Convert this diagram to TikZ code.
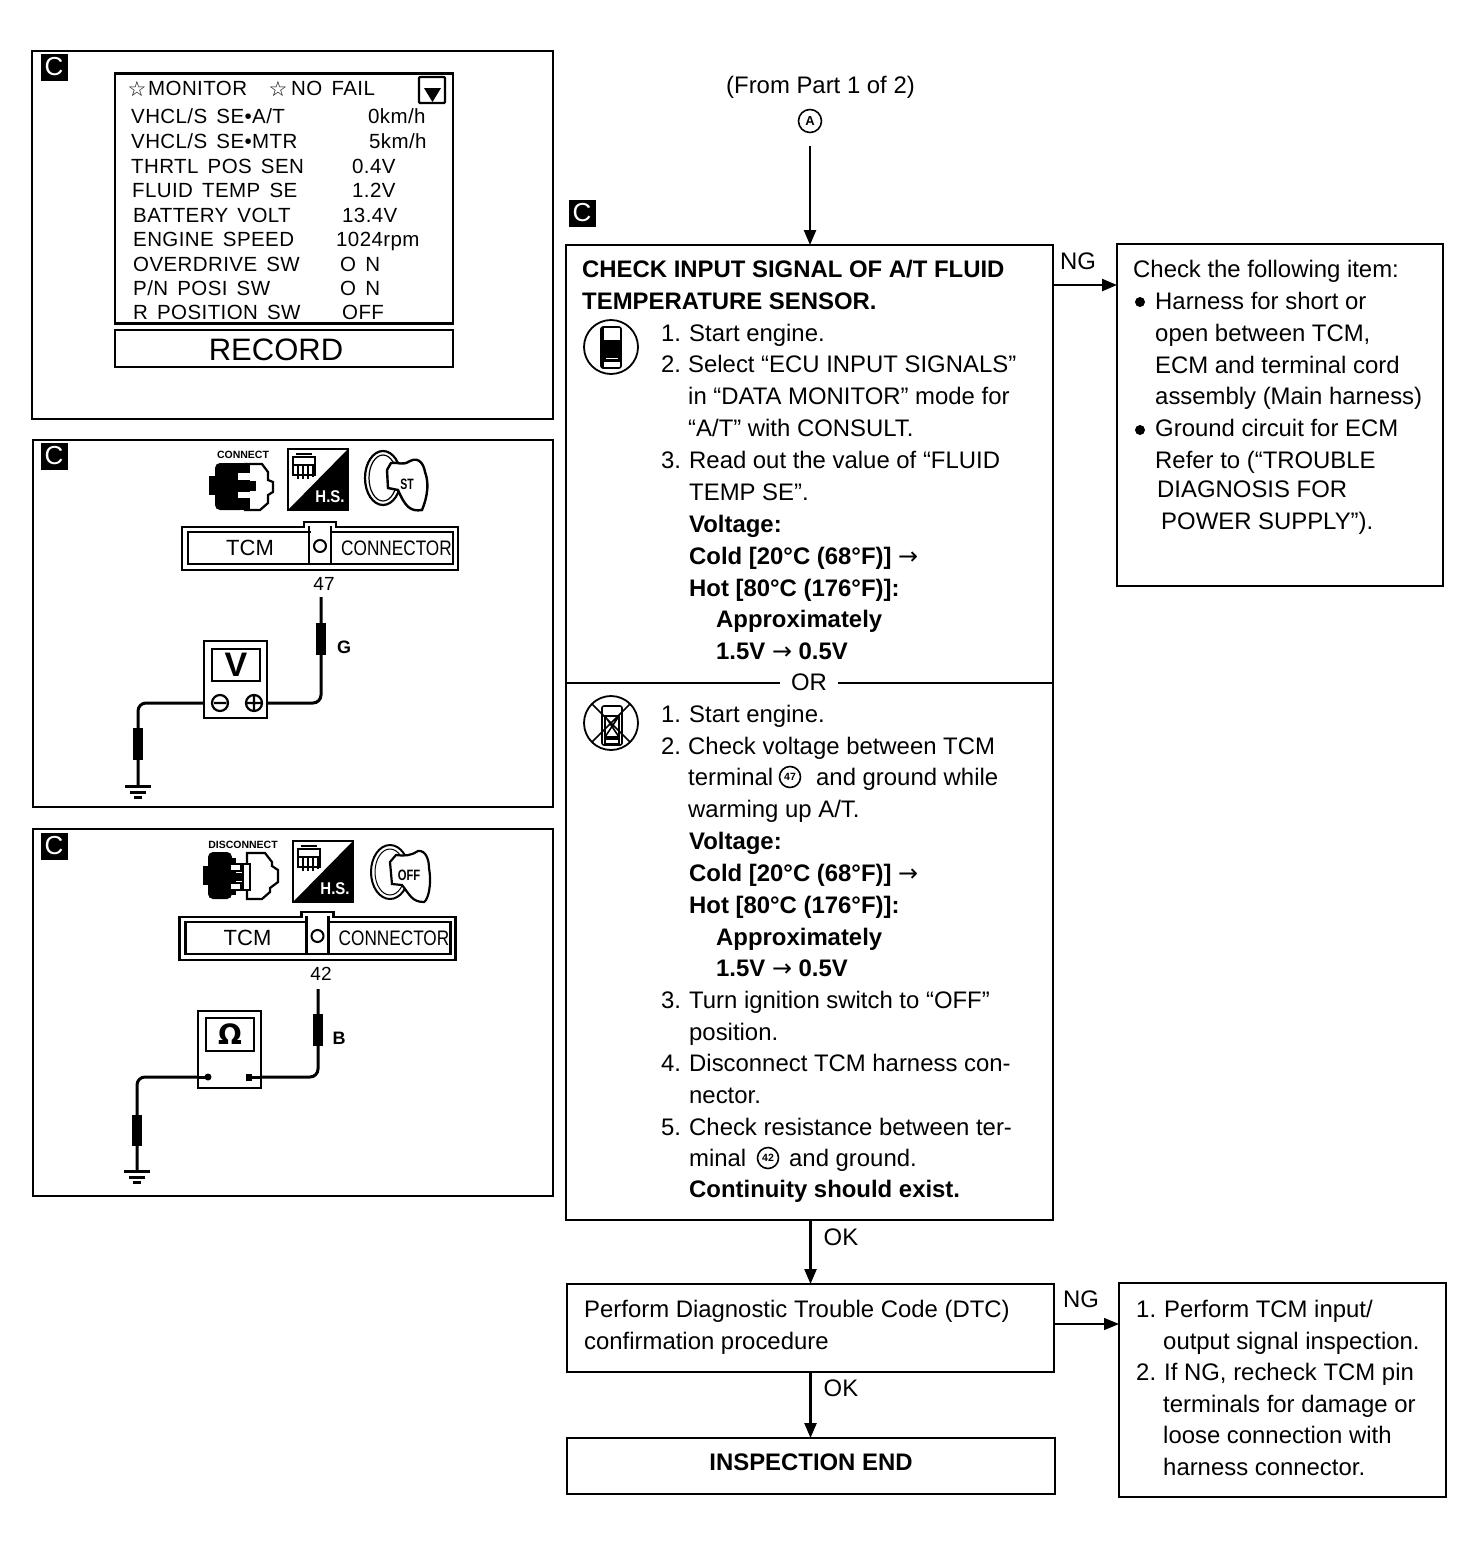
\documentclass[tikz,border=0pt]{standalone}
\usepackage{fontspec}
\setmainfont{Liberation Sans}
\newfontfamily\monfont[LetterSpace=2,WordSpace=1.5]{Liberation Sans}
\newfontfamily\dejavu{DejaVu Sans}
\usetikzlibrary{arrows.meta}
\newcounter{tn}
\tikzset{
  txt/.style={anchor=base west,inner sep=0pt,font=\fontsize{23.9}{28}\selectfont},
  btxt/.style={txt,font=\fontsize{23.9}{28}\selectfont\bfseries},
  mon/.style={anchor=base west,inner sep=0pt,font=\fontsize{20.5}{26}\selectfont\monfont},
  ctr/.style={anchor=center,inner sep=0pt},
  box/.style={draw,line width=2pt,anchor=north west,inner sep=0pt,outer sep=0pt,fill=white},
  panel/.style={box,line width=1.8pt},
  arr/.style={line width=2.4pt,-{Triangle[length=15pt,width=12pt]}},
  wire/.style={line width=3pt,rounded corners=8pt},
  badge/.style={fill=black,text=white,minimum size=27pt,inner sep=0pt,anchor=center,font=\fontsize{26}{28}\selectfont},
  ccirc/.style={draw,circle,line width=1.6pt,minimum size=21pt,inner sep=0pt,font=\fontsize{10.5}{11}\selectfont\bfseries},
}
\newcommand{\tl}[4][]{\stepcounter{tn}\node[txt,#1] (t\arabic{tn}) at (#2,#3) {#4};}
\newcommand{\tb}[4][]{\stepcounter{tn}\node[btxt,#1] (t\arabic{tn}) at (#2,#3) {#4};}
\newcommand{\tm}[3]{\stepcounter{tn}\node[mon] (t\arabic{tn}) at (#1,#2) {#3};}
\newcommand{\hsicon}[2]{%
 \begin{scope}[shift={(#1,#2)}]
  \draw[line width=2pt] (0,0) rectangle (60,61);
  \fill (60,0) -- (60,61) -- (0,61) -- cycle;
  \stepcounter{tn}\node[ctr,text=white,font=\fontsize{17}{18}\selectfont\bfseries] (t\arabic{tn}) at (42,48) {\scalebox{0.88}[1]{H.S.}};
  \draw[line width=1.5pt,fill=white] (5,8) rectangle (27,26);
  \draw[line width=1.5pt] (8,5) -- (24,5) (5,16) -- (27,16) (10,16) -- (10,30) (15,16) -- (15,30) (20,16) -- (20,30) (25,16) -- (25,28);
 \end{scope}}
\newcommand{\tcmconn}[4]{%
 \begin{scope}[shift={(#1,#2)}]
  \draw[line width=2.6pt,fill=white] (0,5) -- (122,5) -- (122,0) -- (154,0) -- (154,5) -- (276,5) -- (276,48) -- (0,48) -- cycle;
  \draw[line width=2.6pt] (6,10) rectangle (271,42);
  \fill[white] (128.5,6.5) rectangle (147.5,40.5);
  \draw[line width=2.6pt] (127,42) -- (127,4) (149,42) -- (149,4);
  \draw[line width=2pt] (138,24) circle (6);
  \stepcounter{tn}\node[ctr,font=\fontsize{22}{24}\selectfont] (t\arabic{tn}) at (68,26) {TCM};
  \stepcounter{tn}\node[ctr,font=\fontsize{21}{24}\selectfont] (t\arabic{tn}) at (214.5,26) {\scalebox{0.82}[1]{CONNECTOR}};
  \stepcounter{tn}\node[ctr,font=\fontsize{19}{20}\selectfont] (t\arabic{tn}) at (#3,62) {#4};
 \end{scope}}
\newcommand{\gnd}[2]{%
 \draw[line width=3pt] (#1-13,#2) -- (#1+13,#2);
 \draw[line width=3pt] (#1-8,#2+6) -- (#1+8,#2+6);
 \draw[line width=3pt] (#1-4,#2+11) -- (#1+4,#2+11);}
\newcommand{\sleeve}[3]{\fill (#1-5,#2) rectangle (#1+5,#3);}
\begin{document}
\begin{tikzpicture}[x=1pt,y=-1pt]
\useasboundingbox (0,0) rectangle (1472,1550);
\fill[white] (0,0) rectangle (1472,1550);

% ---------- panels
\node[panel,minimum width=521pt,minimum height=368pt] (p1) at (32,51) {};
\node[panel,minimum width=520pt,minimum height=367pt] (p2) at (33,440) {};
\node[panel,minimum width=520pt,minimum height=367pt] (p3) at (33,829) {};
\node[badge] (c1) at (54,67) {C};
\node[badge] (c2) at (54,456) {C};
\node[badge] (c3) at (54,846) {C};
\node[badge] (c4) at (582,213) {C};

% ---------- monitor
\node[box,minimum width=338pt,minimum height=250pt,line width=2.2pt] (scr) at (115,73.5) {};
\node[box,minimum width=338pt,minimum height=37pt] (rec) at (114.5,330) {};
\node[ctr,font=\fontsize{31}{34}\selectfont] (rect) at (276,350) {RECORD};
\draw[line width=2.4pt,rounded corners=1pt] (419,77) rectangle (445,103);
\fill (424,88) -- (441,88) -- (432.5,102) -- cycle;
\stepcounter{tn}\node[ctr,font=\fontsize{21}{22}\selectfont\dejavu] (t\arabic{tn}) at (137,89) {☆};
\stepcounter{tn}\node[ctr,font=\fontsize{21}{22}\selectfont\dejavu] (t\arabic{tn}) at (278,89) {☆};
\tm{148}{95}{MONITOR}
\tm{291}{95}{NO FAIL}
\tm{131}{123}{VHCL/S SE•A/T}   \tm{368}{123}{0km/h}
\tm{131}{148}{VHCL/S SE•MTR}   \tm{369}{148}{5km/h}
\tm{131}{173}{THRTL POS SEN}   \tm{352}{173}{0.4V}
\tm{132}{197}{FLUID TEMP SE}   \tm{352}{197}{1.2V}
\tm{133}{222}{BATTERY VOLT}    \tm{342}{222}{13.4V}
\tm{133}{246}{ENGINE SPEED}    \tm{336}{246}{1024rpm}
\tm{133}{271}{OVERDRIVE SW}    \tm{340}{271}{O N}
\tm{133}{295}{P/N POSI SW}     \tm{340}{295}{O N}
\tm{133}{319}{R POSITION SW}   \tm{342}{319}{OFF}

% ---------- panel 2 icons
\stepcounter{tn}\node[ctr,font=\fontsize{10.5}{11}\selectfont\bfseries] (t\arabic{tn}) at (243,455) {CONNECT};
\draw[line width=2.2pt,fill=white] (245,464) -- (262,464) -- (268,472) -- (268,480) -- (273,482) -- (273,492) -- (268,495) -- (268,503) -- (260,510) -- (245,510) -- cycle;
\fill[rounded corners=5pt] (215,463) rectangle (245,510);
\fill (209,476) rectangle (216,495);
\fill (240,463) rectangle (250,510);
\fill[white] (238,473) rectangle (251,480);
\fill[white] (238,492) rectangle (251,498);
\fill (240,481) rectangle (256,491);
\hsicon{288}{449}
\draw[line width=2.2pt] (383,478) ellipse (18 and 27);
\draw[line width=1.2pt] (383,478) ellipse (14 and 23);
\draw[line width=2.4pt,fill=white] (391,463) .. controls (400,462) and (402,466) .. (410,461) .. controls (420,456) and (424,466) .. (425,472) .. controls (431,488) and (424,505) .. (422,510) .. controls (410,512) and (405,506) .. (398,490) -- (388,488) -- (387,470) -- cycle;
\stepcounter{tn}\node[ctr,font=\fontsize{15}{16}\selectfont\bfseries] (t\arabic{tn}) at (407,484) {\scalebox{0.7}[1]{ST}};
\tcmconn{182}{522}{142}{47}

% meter V
\draw[wire] (203,703) -- (138,703) -- (138,786);
\draw[wire] (266,703) -- (321,703) -- (321,597);
\sleeve{321}{623}{655}
\sleeve{138}{728}{760}
\gnd{138}{786}
\node[draw,line width=2.4pt,fill=white,minimum width=63pt,minimum height=77pt,anchor=north west,inner sep=0pt,outer sep=0pt] (vm) at (204,641) {};
\node[draw,line width=2.4pt,minimum width=48pt,minimum height=32pt,anchor=north west,inner sep=0pt,outer sep=0pt,font=\fontsize{34}{36}\selectfont\bfseries] (vd) at (212,649) {V};
\draw[line width=2.2pt] (220,703) circle (8) (214,703) -- (226,703);
\draw[line width=2.2pt] (254,703) circle (8) (246,703) -- (262,703) (254,695) -- (254,711);
\node[ctr,font=\fontsize{18}{18}\selectfont\bfseries] (g) at (344,647) {G};

% ---------- panel 3 icons
\stepcounter{tn}\node[ctr,font=\fontsize{10.5}{11}\selectfont\bfseries] (t\arabic{tn}) at (243,845) {DISCONNECT};
\draw[line width=2.2pt,fill=white] (247,853) -- (265,853) -- (272,862) -- (272,866) -- (278,870) -- (278,882) -- (270,888) -- (270,892) -- (262,899) -- (247,899) -- cycle;
\fill[rounded corners=5pt] (208,852) rectangle (232,899);
\fill (203,866) rectangle (209,885);
\fill[white] (230,863) rectangle (232,870);
\fill (232,858) rectangle (236,895);
\draw[line width=2pt,fill=white] (230,864) rectangle (241,871);
\draw[line width=2pt,fill=white] (230,883) rectangle (241,890);
\fill (232,873) rectangle (243,881);
\draw[line width=2pt,fill=white] (243,864) rectangle (250,890);
\hsicon{293}{841}
\draw[line width=2pt] (390,872) ellipse (19 and 27);
\draw[line width=1pt] (390,872) ellipse (15 and 23);
\draw[line width=2.2pt,fill=white] (396,855) .. controls (405,856) and (410,856) .. (418,851) .. controls (426,850) and (429,860) .. (429,868) .. controls (432,885) and (428,900) .. (424,902) .. controls (412,902) and (410,895) .. (402,885) -- (392,884) -- (390,862) -- cycle;
\stepcounter{tn}\node[ctr,font=\fontsize{15}{16}\selectfont\bfseries] (t\arabic{tn}) at (409,875) {\scalebox{0.75}[1]{OFF}};
\tcmconn{179.5}{912}{141.5}{42}

% meter Ohm
\draw[wire] (197,1077) -- (137,1077) -- (137,1172);
\draw[wire] (260,1077) -- (318,1077) -- (318,989);
\sleeve{318}{1014}{1046}
\sleeve{137}{1115}{1146}
\gnd{137}{1171}
\node[draw,line width=2.4pt,fill=white,minimum width=63pt,minimum height=77pt,anchor=north west,inner sep=0pt,outer sep=0pt] (om) at (198,1011) {};
\node[draw,line width=2.4pt,minimum width=48pt,minimum height=33pt,anchor=north west,inner sep=0pt,outer sep=0pt,font=\fontsize{28}{30}\selectfont\dejavu\bfseries] (od) at (206,1018) {Ω};
\draw[line width=3pt] (198,1077) -- (208,1077) (261,1077) -- (248,1077);
\fill (208,1077) circle (3.5);
\fill (246,1073.5) rectangle (252,1080.5);
\node[ctr,font=\fontsize{18}{18}\selectfont\bfseries] (b) at (339,1038) {B};

% ---------- flow chart boxes
\node[box,minimum width=487pt,minimum height=975pt] (main) at (566,245) {};
\node[box,minimum width=326pt,minimum height=342pt] (chk) at (1117,244) {};
\node[box,minimum width=487pt,minimum height=88pt] (dtc) at (567,1284) {};
\node[box,minimum width=327pt,minimum height=214pt] (insp) at (1119,1283) {};
\node[box,minimum width=488pt,minimum height=56pt] (endb) at (567,1438) {};

\draw[line width=2.2pt] (main.west |- 0,683) -- (780,683) (838,683) -- (main.east |- 0,683);
\node[ctr,font=\fontsize{23.9}{28}\selectfont] (or) at (809,682) {OR};

% ---------- from part
\tl{726}{93}{(From Part 1 of 2)}
\node[ccirc,minimum size=23pt,font=\fontsize{13}{14}\selectfont\bfseries] (A) at (810,121) {A};

\coordinate (ng1) at (1052,285);
\coordinate (ng2) at (1054,1324);
\draw[arr,shorten <=13pt] (A.south) -- (A.south |- main.north);
\draw[arr] (ng1) -- (ng1 -| chk.west);
\draw[arr] (main.south -| dtc.north) -- (dtc.north);
\draw[arr,line width=1.4pt] (ng2) -- (ng2 -| insp.west);
\draw[arr] (dtc.south) -- (endb.north -| dtc.south);

\node[ctr,font=\fontsize{23.9}{28}\selectfont] (ngl1) at (1078,261) {NG};
\node[ctr,font=\fontsize{23.9}{28}\selectfont] (ngl2) at (1081,1299) {NG};
\node[ctr,font=\fontsize{23.9}{28}\selectfont] (okl1) at (841,1237) {OK};
\node[ctr,font=\fontsize{23.9}{28}\selectfont] (okl2) at (841,1388) {OK};

% ---------- icons in main box
\draw[line width=1.8pt] (611,347) circle (27);
\draw[line width=1.6pt,fill=white,rounded corners=2pt] (601,327) rectangle (621,368);
\fill (602,340) rectangle (620,362);
\fill (601,328) rectangle (604,367);
\draw[white,line width=1pt] (606,364) -- (618,364) (606,358) -- (618,358);
\draw[line width=1.8pt] (611,723) circle (27);
\draw[line width=1.6pt,rounded corners=2pt] (602,706) rectangle (622,745);
\draw[line width=1.4pt] (605,716) rectangle (619,737);
\draw[line width=1.6pt] (592,704) -- (630,742) (630,704) -- (592,742) (605,716) -- (619,737) (619,716) -- (605,737);
\draw[line width=1.6pt] (605,739) rectangle (619,744);

% ---------- main text
\tb{582}{277}{CHECK INPUT SIGNAL OF A/T FLUID}
\tb{582}{309}{TEMPERATURE SENSOR.}
\tl{661}{341}{1.}\tl{689}{341}{Start engine.}
\tl{661}{372}{2.}\tl{688}{372}{Select “ECU INPUT SIGNALS”}
\tl{688}{404}{in “DATA MONITOR” mode for}
\tl{688}{436}{“A/T” with CONSULT.}
\tl{661}{468}{3.}\tl{689}{468}{Read out the value of “FLUID}
\tl{689}{500}{TEMP SE”.}
\tb{689}{532}{Voltage:}
\tb{689}{564}{Cold [20°C (68°F)] {\dejavu\mdseries →}}
\tb{689}{596}{Hot [80°C (176°F)]:}
\tb{716}{627}{Approximately}
\tb{716}{659}{1.5V {\dejavu\mdseries →} 0.5V}

\tl{661}{722}{1.}\tl{689}{722}{Start engine.}
\tl{661}{754}{2.}\tl{688}{754}{Check voltage between TCM}
\tl{688}{785}{terminal}\node[ccirc] (c47) at (790,777) {47};\tl{816}{785}{and ground while}
\tl{688}{817}{warming up A/T.}
\tb{689}{849}{Voltage:}
\tb{689}{881}{Cold [20°C (68°F)] {\dejavu\mdseries →}}
\tb{689}{913}{Hot [80°C (176°F)]:}
\tb{716}{945}{Approximately}
\tb{716}{976}{1.5V {\dejavu\mdseries →} 0.5V}
\tl{661}{1008}{3.}\tl{689}{1008}{Turn ignition switch to “OFF”}
\tl{689}{1040}{position.}
\tl{661}{1071}{4.}\tl{689}{1071}{Disconnect TCM harness con-}
\tl{689}{1103}{nector.}
\tl{661}{1135}{5.}\tl{689}{1135}{Check resistance between ter-}
\tl{689}{1166}{minal}\node[ccirc] (c42) at (768,1158) {42};\tl{789}{1166}{and ground.}
\tb{689}{1197}{Continuity should exist.}

% ---------- right box 1
\tl{1133}{277}{Check the following item:}
\fill (1140,302) circle (5);
\tl{1155}{309}{Harness for short or}
\tl{1155}{341}{open between TCM,}
\tl{1155}{373}{ECM and terminal cord}
\tl{1155}{404}{assembly (Main harness)}
\fill (1140,430) circle (5);
\tl{1155}{436}{Ground circuit for ECM}
\tl{1155}{468}{Refer to (“TROUBLE}
\tl{1157}{497}{DIAGNOSIS FOR}
\tl{1161}{529}{POWER SUPPLY”).}

% ---------- lower boxes
\tl{584}{1317}{Perform Diagnostic Trouble Code (DTC)}
\tl{584}{1349}{confirmation procedure}
\stepcounter{tn}\node[btxt,anchor=base] (t\arabic{tn}) at (811,1470) {INSPECTION END};
\tl{1136}{1317}{1.}\tl{1164}{1317}{Perform TCM input/}
\tl{1163}{1349}{output signal inspection.}
\tl{1136}{1380}{2.}\tl{1164}{1380}{If NG, recheck TCM pin}
\tl{1163}{1412}{terminals for damage or}
\tl{1163}{1443}{loose connection with}
\tl{1163}{1475}{harness connector.}
\end{tikzpicture}
\end{document}
